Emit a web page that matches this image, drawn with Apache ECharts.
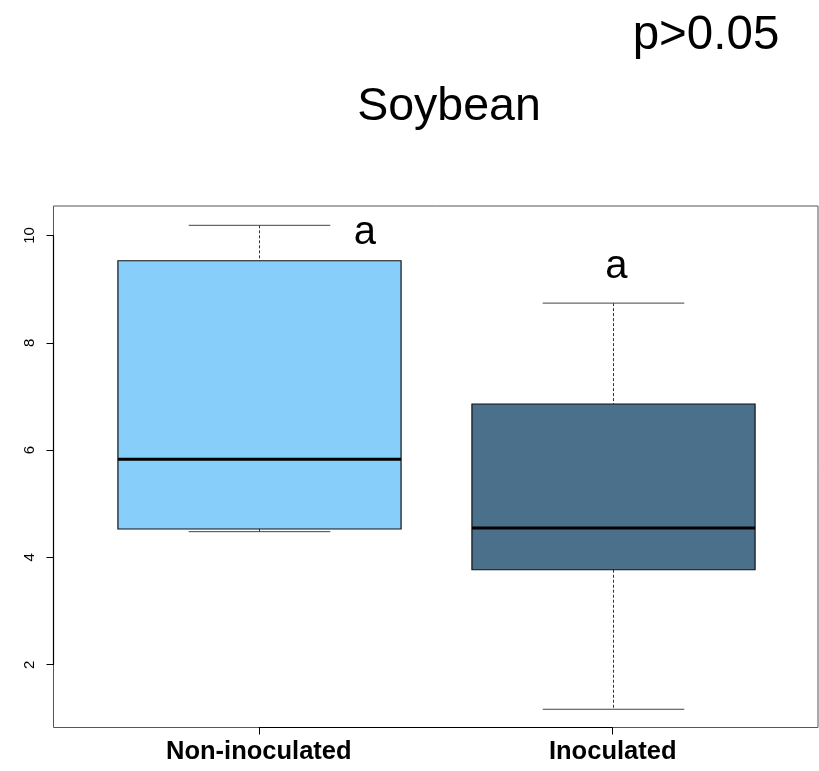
<!DOCTYPE html>
<html>
<head>
<meta charset="utf-8">
<script src="https://cdn.jsdelivr.net/npm/echarts@6/dist/echarts.min.js"></script>
<style>
  html, body { margin: 0; padding: 0; background: #fff; }
  #chart { width: 819px; height: 771px; }
</style>
</head>
<body>
<div id="chart"></div>
<script>
// Group names and their positions on the x scale
const groups = ['Non-inoculated', 'Inoculated'];
const groupPos = [1, 2];

// Five-number summaries: lower whisker, Q1, median, Q3, upper whisker
const whiskerLow = [4.48, 1.17];
const quartile1 = [4.53, 3.77];
const medians = [5.83, 4.55];
const quartile3 = [9.53, 6.86];
const whiskerHigh = [10.19, 8.74];

const boxColors = ['#87CEFA', '#4A708B'];

// Significance letters placed above the boxes
const sigLetters = ['a', 'a'];
const letterX = [1.30, 2.01];
const letterY = [10.05, 9.42];

// Y tick values
const yTicks = [2, 4, 6, 8, 10];

const titleText = 'Soybean';
const pText = 'p>0.05';

const FONT = '"Liberation Sans", Arial, Helvetica, sans-serif';

const boxData = groups.map((g, i) => [groupPos[i], whiskerLow[i], quartile1[i], medians[i], quartile3[i], whiskerHigh[i], i]);
const letterData = sigLetters.map((s, i) => [letterX[i], letterY[i], s]);

const chart = echarts.init(document.getElementById('chart'), null, { renderer: 'canvas' });

const option = {
  backgroundColor: '#fff',
  animation: false,
  title: [
    {
      text: titleText, left: 444, top: 79, textAlign: 'center',
      textStyle: { fontFamily: FONT, fontSize: 46.5, fontWeight: 'normal', color: '#000' }
    },
    {
      text: pText, left: 701, top: 7, textAlign: 'center',
      textStyle: { fontFamily: FONT, fontSize: 47.5, fontWeight: 'normal', color: '#000' }
    }
  ],
  grid: {
    left: 53.5, right: 1, top: 206, bottom: 43.5,
    show: true, borderColor: '#555', borderWidth: 1, backgroundColor: 'transparent'
  },
  xAxis: {
    type: 'value', min: 0.42, max: 2.58,
    splitLine: { show: false },
    axisLine: { show: false },
    axisTick: { show: true, customValues: groupPos, length: 7, lineStyle: { color: '#000', width: 1 } },
    axisLabel: {
      show: true, customValues: groupPos, margin: 11,
      formatter: v => groups[groupPos.indexOf(Math.round(v))] || '',
      fontFamily: FONT, fontSize: 25.5, fontWeight: 'bold', color: '#000'
    }
  },
  yAxis: {
    type: 'value', min: 0.83, max: 10.55,
    splitLine: { show: false },
    axisLine: { show: false },
    axisTick: { show: true, customValues: yTicks, length: 7, lineStyle: { color: '#000', width: 1 } },
    axisLabel: {
      show: true, customValues: yTicks, rotate: 90, margin: 16,
      fontFamily: FONT, fontSize: 15, color: '#000'
    }
  },
  series: [
    {
      // axis lines spanning the tick range only
      type: 'custom',
      silent: true,
      data: [[0]],
      renderItem: (params, api) => {
        const yA = api.coord([0.42, yTicks[0]]);
        const yB = api.coord([0.42, yTicks[yTicks.length - 1]]);
        const xA = api.coord([groupPos[0], 0.83]);
        const xB = api.coord([groupPos[groupPos.length - 1], 0.83]);
        const st = { stroke: '#000', lineWidth: 1.2 };
        return {
          type: 'group',
          children: [
            { type: 'line', shape: { x1: yA[0], y1: yA[1], x2: yB[0], y2: yB[1] }, style: st },
            { type: 'line', shape: { x1: xA[0], y1: xA[1], x2: xB[0], y2: xB[1] }, style: st }
          ]
        };
      }
    },
    {
      type: 'custom',
      data: boxData,
      encode: { x: 0, y: [1, 2, 3, 4, 5] },
      renderItem: (params, api) => {
        const x = api.value(0);
        const boxW = api.size([0.8, 0])[0];
        const capW = api.size([0.4, 0])[0];
        const c = api.coord([x, api.value(3)]);
        const pLow = api.coord([x, api.value(1)]);
        const pQ1 = api.coord([x, api.value(2)]);
        const pMed = api.coord([x, api.value(3)]);
        const pQ3 = api.coord([x, api.value(4)]);
        const pHigh = api.coord([x, api.value(5)]);
        const cx = Math.round(c[0]) + 0.5;
        const fill = boxColors[api.value(6)];
        const dash = { stroke: '#333', lineWidth: 1, lineDash: [3, 2] };
        const solid = { stroke: '#444', lineWidth: 1 };
        return {
          type: 'group',
          children: [
            { type: 'line', shape: { x1: cx, y1: pHigh[1], x2: cx, y2: pQ3[1] }, style: dash },
            { type: 'line', shape: { x1: cx, y1: pQ1[1], x2: cx, y2: pLow[1] }, style: dash },
            { type: 'line', shape: { x1: cx - capW / 2, y1: pHigh[1], x2: cx + capW / 2, y2: pHigh[1] }, style: solid },
            { type: 'line', shape: { x1: cx - capW / 2, y1: pLow[1], x2: cx + capW / 2, y2: pLow[1] }, style: solid },
            {
              type: 'rect',
              shape: { x: cx - boxW / 2, y: pQ3[1], width: boxW, height: pQ1[1] - pQ3[1] },
              style: { fill: fill, stroke: '#111', lineWidth: 1.2 }
            },
            { type: 'line', shape: { x1: cx - boxW / 2, y1: pMed[1], x2: cx + boxW / 2, y2: pMed[1] }, style: { stroke: '#000', lineWidth: 3 } }
          ]
        };
      }
    },
    {
      type: 'custom',
      data: letterData,
      encode: { x: 0, y: 1 },
      renderItem: (params, api) => {
        const p = api.coord([api.value(0), api.value(1)]);
        return {
          type: 'text',
          style: {
            x: p[0], y: p[1], text: letterData[params.dataIndex][2],
            fontFamily: FONT, fontSize: 40, fill: '#000',
            align: 'center', verticalAlign: 'middle'
          }
        };
      }
    }
  ]
};

chart.setOption(option);
</script>
</body>
</html>
